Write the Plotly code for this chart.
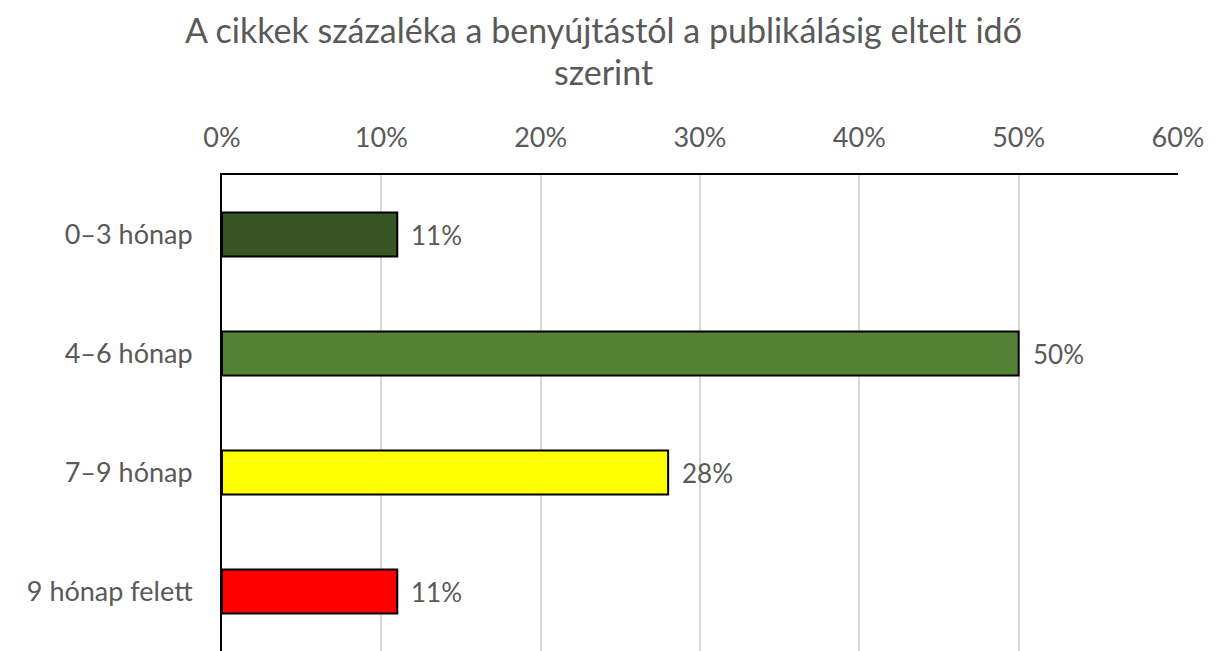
import plotly.graph_objects as go

categories = ["0–3 hónap", "4–6 hónap", "7–9 hónap", "9 hónap felett"]
values = [0.11, 0.50, 0.28, 0.11]
colors = ["#375623", "#548235", "#FFFF00", "#FF0000"]
tick_vals = [0, 0.1, 0.2, 0.3, 0.4, 0.5, 0.6]
tick_text = ["0%", "10%", "20%", "30%", "40%", "50%", "60%"]
title_lines = ["A cikkek százaléka a benyújtástól a publikálásig eltelt idő", "szerint"]

FONT = "Lato"
GRAY = "#595959"

W, H = 1207, 643
ML, MR, MT, MB = 214, 37, 167, 0
PH = H - MT - MB
PW = W - ML - MR

fig = go.Figure()
fig.add_trace(go.Bar(
    x=values, y=categories, orientation="h",
    marker=dict(color=colors, line=dict(color="black", width=2)),
    width=0.37, hoverinfo="skip",
))

for v, c in zip(values, categories):
    fig.add_annotation(x=v, y=c, xref="x", yref="y", text=f"{round(v*100)}%",
                       showarrow=False, xanchor="left", yanchor="middle", xshift=12,
                       font=dict(family=FONT, size=26, color=GRAY))

title_x = (603.5 - 8 - ML) / PW
for line, fy in zip(title_lines, [21, 63]):
    fig.add_annotation(x=title_x, y=(H - fy) / PH, xref="paper", yref="paper", text=line,
                       showarrow=False, xanchor="center", yanchor="middle",
                       font=dict(family=FONT, size=34, color=GRAY))

fig.update_layout(
    width=W, height=H,
    margin=dict(l=ML, r=MR, t=MT, b=MB),
    paper_bgcolor="white", plot_bgcolor="white",
    showlegend=False,
    font=dict(family=FONT, color=GRAY),
)
fig.update_xaxes(
    side="top", range=[0, 0.6], tickvals=tick_vals, ticktext=tick_text,
    showgrid=True, gridcolor="#D9D9D9", gridwidth=1.5,
    showline=True, linecolor="black", linewidth=2,
    zeroline=False, ticks="", ticklabelstandoff=15,
    tickfont=dict(family=FONT, size=27, color=GRAY),
)
fig.update_yaxes(
    categoryorder="array", categoryarray=categories, autorange="reversed",
    showline=True, linecolor="black", linewidth=2, showgrid=False,
    ticks="", ticklabelstandoff=22,
    tickfont=dict(family=FONT, size=27, color=GRAY),
)

fig.write_html("out.html")
